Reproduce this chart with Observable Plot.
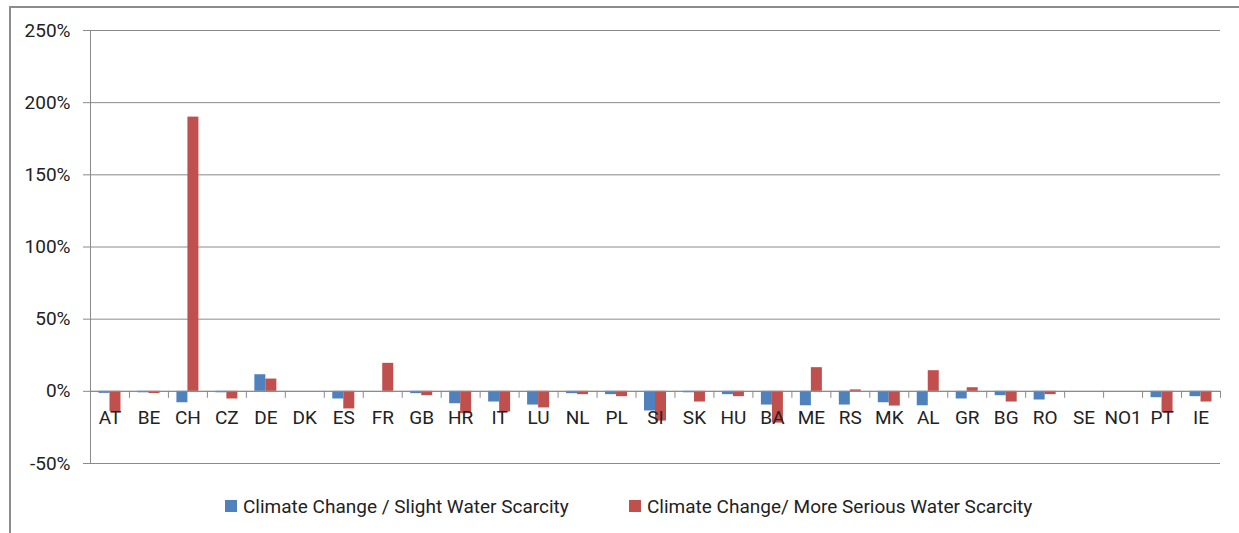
<!DOCTYPE html>
<html>
<head>
<meta charset="utf-8">
<script src="https://cdn.jsdelivr.net/npm/d3@7"></script>
<script src="https://cdn.jsdelivr.net/npm/@observablehq/plot@0.6"></script>
<style>
  html, body { margin: 0; padding: 0; background: #fff; overflow: hidden; width: 1239px; height: 533px; }
  #frame { position: absolute; left: 9px; top: 6px; width: 1300px; height: 600px; border: 2px solid #8c8c8c; box-sizing: border-box; }
  #chart { position: absolute; left: 0; top: 0; }
  #legend { position: absolute; left: 0; top: 0; width: 1239px; height: 533px;
            font-family: Roboto, "Open Sans", sans-serif; font-size: 19px; color: #222; }
  .item { position: absolute; top: 494px; height: 24px; display: flex; align-items: center; white-space: nowrap; }
  .sw { width: 12px; height: 12px; margin-right: 6px; display: inline-block; }
</style>
</head>
<body>
<div id="frame"></div>
<div id="chart"></div>
<div id="legend"></div>
<script>
const countries = ["AT","BE","CH","CZ","DE","DK","ES","FR","GB","HR","IT","LU","NL","PL","SI","SK","HU","BA","ME","RS","MK","AL","GR","BG","RO","SE","NO1","PT","IE"];
const slight = [-1.4,-1,-7.9,-1,11.5,0,-5.3,0,-1.6,-8.6,-7.4,-9.5,-1.6,-2.3,-13.6,-1,-2.3,-9.5,-10,-9.5,-7.9,-10,-5.3,-3,-6,0,0,-4.4,-3.7];
const serious = [-14,-1.5,190,-5.3,8.5,0,-12.2,19.4,-3,-15.5,-14.3,-11.5,-2.3,-3.7,-20.6,-7.4,-3.7,-22,16.4,1,-10.2,14.3,2.5,-7.4,-2.3,0,0,-15,-7.4];
const yTicks = [-50,0,50,100,150,200,250];
const seriesNames = ["Climate Change / Slight Water Scarcity", "Climate Change/ More Serious Water Scarcity"];
const colors = ["#4F81BD", "#C0504D"];

const W = 1239, ML = 90, MR = 19;
const band = (W - ML - MR) / countries.length;
const barW = 11;
const rows = countries.map((c, i) => ({country: c, slight: slight[i], serious: serious[i]}));
const gridColor = "#8a8a8a";
const font = "Roboto, 'Open Sans', sans-serif";

const chart = Plot.plot({
  width: W,
  height: 480,
  marginLeft: ML,
  marginRight: MR,
  marginTop: 30,
  marginBottom: 17,
  style: {fontFamily: font, fontSize: "19px", color: "#222", background: "transparent"},
  x: {type: "band", domain: countries, padding: 0, round: false, axis: null},
  y: {domain: [-50, 250], axis: null},
  marks: [
    Plot.ruleY(yTicks, {stroke: gridColor, strokeWidth: 1}),
    Plot.axisY({ticks: yTicks, tickSize: 7, tickPadding: 13, tickFormat: d => d + "%", stroke: gridColor, fontSize: 19, color: "#222"}),
    Plot.ruleX([countries[0]], {dx: -band / 2, y1: -50, y2: 250, stroke: gridColor}),
    Plot.ruleX(countries, {x: d => d, dx: -band / 2, y1: 0, y2: -4.85, stroke: gridColor}),
    Plot.ruleX([countries[countries.length - 1]], {dx: band / 2, y1: 0, y2: -4.85, stroke: gridColor}),
    Plot.barY(rows, {x: "country", y: "slight", fill: colors[0], insetLeft: band / 2 - barW, insetRight: band / 2}),
    Plot.barY(rows, {x: "country", y: "serious", fill: colors[1], insetLeft: band / 2, insetRight: band / 2 - barW}),
    Plot.ruleY([0], {stroke: gridColor}),
    Plot.text(countries, {x: d => d, y: () => 0, dy: 27, text: d => d, fontSize: 19, fill: "#222", textAnchor: "middle"})
  ]
});
document.getElementById("chart").appendChild(chart);

const legend = document.getElementById("legend");
const legendLeft = [225, 629];
seriesNames.forEach((name, i) => {
  const item = document.createElement("div");
  item.className = "item";
  item.style.left = legendLeft[i] + "px";
  const sw = document.createElement("span");
  sw.className = "sw";
  sw.style.background = colors[i];
  const t = document.createElement("span");
  t.textContent = name;
  item.appendChild(sw);
  item.appendChild(t);
  legend.appendChild(item);
});
</script>
</body>
</html>
